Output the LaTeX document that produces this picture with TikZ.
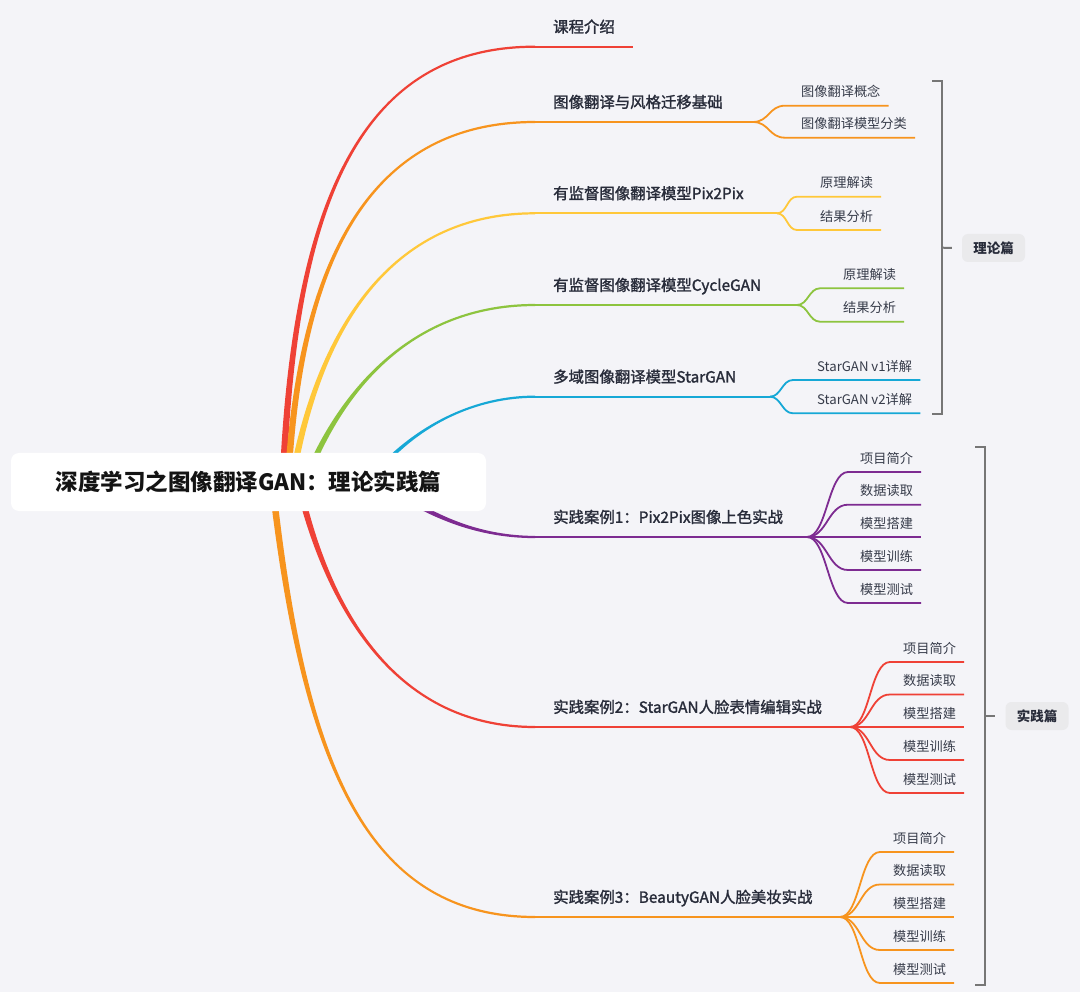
\documentclass[tikz,border=0pt]{standalone}
\usepackage{fontspec}
\setmainfont{Noto Sans CJK SC}
\newfontfamily\medfont[FakeBold=1.6]{Noto Sans CJK SC}
\usetikzlibrary{calc}
\definecolor{bgc}{RGB}{244,244,248}
\definecolor{cred}{RGB}{239,65,54}
\definecolor{corange}{RGB}{247,148,30}
\definecolor{cyellow}{RGB}{255,200,58}
\definecolor{cgreen}{RGB}{141,196,63}
\definecolor{cblue}{RGB}{22,168,214}
\definecolor{cpurple}{RGB}{125,43,145}
\definecolor{ctext}{RGB}{40,44,58}
\definecolor{csub}{RGB}{55,60,74}
\definecolor{cbrk}{RGB}{118,118,118}
\definecolor{clbl}{RGB}{234,234,236}
\pgfdeclarelayer{back}\pgfdeclarelayer{bg}
\pgfsetlayers{back,bg,main}
\newcommand\mytaperU[5]{\fill[#1] ($(#2)+(-3.4,0)$) .. controls ($(#3)+(-2.3,0)$) and ($(#4)+(0,-1.3)$) .. ($(#5)+(0,-1.1)$) -- ($(#5)+(0,1.1)$) .. controls ($(#4)+(0,1.3)$) and ($(#3)+(2.3,0)$) .. ($(#2)+(3.4,0)$) -- cycle;}
\newcommand\mytaperD[5]{\fill[#1] ($(#2)+(-3.4,0)$) .. controls ($(#3)+(-2.3,0)$) and ($(#4)+(0,1.3)$) .. ($(#5)+(0,1.1)$) -- ($(#5)+(0,-1.1)$) .. controls ($(#4)+(0,-1.3)$) and ($(#3)+(2.3,0)$) .. ($(#2)+(3.4,0)$) -- cycle;}
\newcommand\subc[5]{\draw[#1,subline] (#2) .. controls +(#5,0) and +(-#5,0) .. ($(#3.south west)+(-#4,0)$) -- ($(#3.south east)+(8,0)$);}
\begin{document}
\begin{tikzpicture}[x=1pt,y=-1pt,
  rootnode/.style={fill=white,rounded corners=8pt,minimum width=475pt,minimum height=58pt,inner sep=0pt,font=\fontsize{22.5}{26}\selectfont\bfseries,text=black!92},
  topic/.style={anchor=south west,inner xsep=18pt,inner ysep=0pt,text height=12pt,text depth=14pt,font=\fontsize{15.4}{18}\selectfont\medfont,text=ctext},
  leaf/.style={anchor=south west,inner sep=0pt,text height=10pt,text depth=8.5pt,font=\fontsize{13.2}{16}\selectfont,text=csub},
  tag/.style={fill=clbl,rounded corners=6pt,minimum width=63pt,minimum height=28pt,inner sep=0pt,font=\fontsize{13.5}{16}\selectfont\bfseries,text=ctext},
  ul/.style={line width=2.2pt},
  subline/.style={line width=1.8pt},
  brk/.style={draw=cbrk,line width=2pt}]
\begin{pgfonlayer}{back}
\fill[bgc] (0,0) rectangle (1080,992);
\end{pgfonlayer}
\useasboundingbox (0,0) rectangle (1080,992);

% root
\node[rootnode] (root) at (248.5,482) {深度学习之图像翻译GAN：理论实践篇};

% main topics
\node[topic] (m0) at (535,46.7) {课程介绍};
\node[topic] (m1) at (535,122) {图像翻译与风格迁移基础};
\node[topic] (m2) at (535,213.3) {有监督图像翻译模型Pix2Pix};
\node[topic] (m3) at (535,305) {有监督图像翻译模型CycleGAN};
\node[topic] (m4) at (535,396.7) {多域图像翻译模型StarGAN};
\node[topic] (m5) at (535,537) {实践案例1：Pix2Pix图像上色实战};
\node[topic] (m6) at (535,727) {实践案例2：StarGAN人脸表情编辑实战};
\node[topic] (m7) at (535,917) {实践案例3：BeautyGAN人脸美妆实战};

% junctions
\coordinate (j1) at (753,122);
\coordinate (j2) at (777,213.3);
\coordinate (j3) at (797,305);
\coordinate (j4) at (770,396.7);
\coordinate (j5) at (807,537);
\coordinate (j6) at (850,727);
\coordinate (j7) at (840,917);

% leaves
\node[leaf] (s11) at (801,105.7) {图像翻译概念};
\node[leaf] (s12) at (801,137.7) {图像翻译模型分类};
\node[leaf] (s21) at (820,196.7) {原理解读};
\node[leaf] (s22) at (820,230) {结果分析};
\node[leaf] (s31) at (843,288.3) {原理解读};
\node[leaf] (s32) at (843,321.7) {结果分析};
\node[leaf] (s41) at (817,380) {StarGAN v1详解};
\node[leaf] (s42) at (817,413.3) {StarGAN v2详解};
\foreach \i/\yy/\t in {1/472/项目简介,2/504.7/数据读取,3/537/模型搭建,4/570/模型训练,5/603/模型测试}
  {\node[leaf] (s5\i) at (860,\yy) {\t};}
\foreach \i/\yy/\t in {1/662/项目简介,2/694.5/数据读取,3/727/模型搭建,4/760/模型训练,5/793/模型测试}
  {\node[leaf] (s6\i) at (903,\yy) {\t};}
\foreach \i/\yy/\t in {1/852/项目简介,2/884.5/数据读取,3/917/模型搭建,4/950/模型训练,5/983/模型测试}
  {\node[leaf] (s7\i) at (893,\yy) {\t};}

% tags
\node[tag] (tl) at (993.5,248) {理论篇};
\node[tag] (pl) at (1037,716) {实践篇};

\begin{pgfonlayer}{bg}
% start points of main branches
\coordinate (sR1) at ($(root.center)+(34.5,-1)$);
\coordinate (sO1) at ($(root.center)+(39.5,-1)$);
\coordinate (sY) at ($(root.center)+(43.5,-1)$);
\coordinate (sG) at ($(root.center)+(56.5,-1)$);
\coordinate (sB) at ($(root.center)+(121.5,-1)$);
\coordinate (sP) at ($(root.center)+(131.5,-1)$);
\coordinate (sR2) at ($(root.center)+(49.5,-1)$);
\coordinate (sO2) at ($(root.center)+(23.5,-1)$);

\mytaperU{cred}{sR1}{294,200}{362,46.7}{m0.south west}
\mytaperU{corange}{sO1}{300,260}{370,122}{m1.south west}
\mytaperU{cyellow}{sY}{318,330}{390,213.3}{m2.south west}
\mytaperU{cgreen}{sG}{345,380}{420,305}{m3.south west}
\mytaperU{cblue}{sB}{400,440}{460,396.7}{m4.south west}
\fill[cpurple] ($(sP)+(1.9,-2.6)$) .. controls ($(420,510)+(1.5,-2)$) and ($(470,537)+(0,-1.3)$) .. ($(m5.south west)+(0,-1.1)$) -- ($(m5.south west)+(0,1.1)$) .. controls ($(470,537)+(0,1.3)$) and ($(420,510)+(-1.5,2)$) .. ($(sP)+(-1.9,2.6)$) -- cycle;
\mytaperD{cred}{sR2}{325,600}{390,727}{m6.south west}
\mytaperD{corange}{sO2}{302,750}{360,917}{m7.south west}

% underlines
\draw[cred,ul] (m0.south west) -- (m0.south east);
\draw[corange,ul] (m1.south west) -- (j1);
\draw[cyellow,ul] (m2.south west) -- (j2);
\draw[cgreen,ul] (m3.south west) -- (j3);
\draw[cblue,ul] (m4.south west) -- (j4);
\draw[cpurple,ul] (m5.south west) -- (j5);
\draw[cred,ul] (m6.south west) -- (j6);
\draw[corange,ul] (m7.south west) -- (j7);

% sub connectors
\subc{corange}{j1}{s11}{16}{16}
\subc{corange}{j1}{s12}{16}{16}
\subc{cyellow}{j2}{s21}{23}{10}
\subc{cyellow}{j2}{s22}{23}{10}
\subc{cgreen}{j3}{s31}{23}{11}
\subc{cgreen}{j3}{s32}{23}{11}
\subc{cblue}{j4}{s41}{24}{11}
\subc{cblue}{j4}{s42}{24}{11}
\foreach \i in {1,...,5}{\subc{cpurple}{j5}{s5\i}{12}{20}}
\foreach \i in {1,...,5}{\subc{cred}{j6}{s6\i}{13}{20}}
\foreach \i in {1,...,5}{\subc{corange}{j7}{s7\i}{13}{20}}

% brackets
\coordinate (b1m) at (942.3,247.7);
\coordinate (b2m) at (985,716);
\draw[brk] (932,81) -- (942.3,81) -- (942.3,414) -- (932,414);
\draw[brk] (b1m) -- ($(tl.west)+(-10,0)$);
\draw[brk] (975,447) -- (985,447) -- (985,984.6) -- (975,984.6);
\draw[brk] (b2m) -- ($(pl.west)+(-10,0)$);
\end{pgfonlayer}
\end{tikzpicture}
\end{document}
